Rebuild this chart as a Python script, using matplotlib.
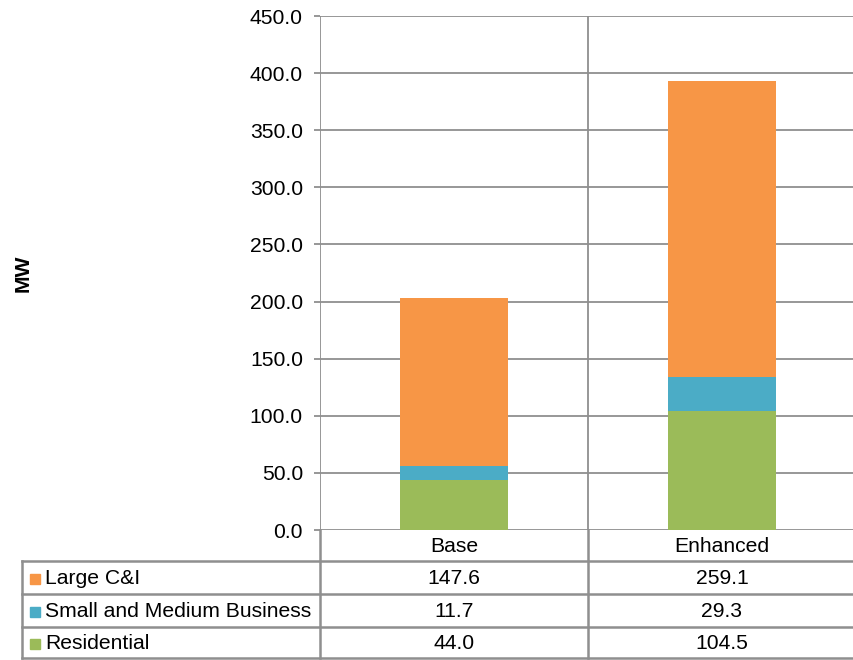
import numpy as np
import matplotlib.pyplot as plt

categories = ['Base', 'Enhanced']
series_names = ['Large C&I', 'Small and Medium Business', 'Residential']
residential = [44.0, 104.5]
small_medium = [11.7, 29.3]
large_ci = [147.6, 259.1]
colors = {'Large C&I': '#F79646',
          'Small and Medium Business': '#4BACC6',
          'Residential': '#9BBB59'}
y_ticks = np.arange(0, 451, 50)

plt.rcParams['font.family'] = ['Liberation Sans', 'DejaVu Sans']
W, H = 854, 660
fig = plt.figure(figsize=(W / 100, H / 100), dpi=100)

grid_c = '#8f8f8f'
fs = 15.2

# plot area in pixel coords
px_left, px_right, px_top, px_bottom = 320, 856, 16, 530
ax = fig.add_axes([px_left / W, 1 - px_bottom / H,
                   (px_right - px_left) / W, (px_bottom - px_top) / H])

x = np.arange(len(categories))
values = {'Residential': residential,
          'Small and Medium Business': small_medium,
          'Large C&I': large_ci}
bottom = np.zeros(len(categories))
for name in ['Residential', 'Small and Medium Business', 'Large C&I']:
    ax.bar(x, values[name], width=0.4, bottom=bottom, color=colors[name],
           zorder=3)
    bottom += np.array(values[name])

ax.set_xlim(-0.5, len(categories) - 0.5)
ax.set_ylim(0, 450)
ax.set_yticks(y_ticks)
ax.set_yticklabels([f'{t:.1f}' for t in y_ticks], fontsize=fs)
ax.yaxis.grid(True, color=grid_c, lw=1.3, zorder=0)
for xv in np.arange(-0.5, len(categories), 1.0):
    ax.axvline(xv, color=grid_c, lw=1.3, zorder=1)
ax.set_xticks([])
for s in ax.spines.values():
    s.set_visible(False)
ax.tick_params(axis='y', length=4.3, width=1.3, color=grid_c, pad=8)
ax.set_ylabel('MW', fontsize=fs, fontweight='bold', labelpad=0)
ax.yaxis.set_label_coords(-287 / (px_right - px_left), 0.5)

# data table underneath, drawn in pixel coordinates
tx = fig.add_axes([0, 0, 1, 1], facecolor='none')
tx.set_xlim(0, W)
tx.set_ylim(H, 0)
tx.axis('off')

col_w = (px_right - px_left) / len(categories)
col_edges = [px_left + i * col_w for i in range(len(categories) + 1)]
header_bottom = 561
row_edges = [561, 594, 627, 658]
table_left = 22

# header row: only the column separators
for xe in col_edges:
    tx.plot([xe, xe], [px_bottom, row_edges[-1]], color=grid_c, lw=1.8)
for ye in row_edges:
    tx.plot([table_left, px_right], [ye, ye], color=grid_c, lw=1.8)
tx.plot([table_left, table_left], [row_edges[0], row_edges[-1]],
        color=grid_c, lw=1.8)

for i, cat in enumerate(categories):
    tx.text(col_edges[i] + col_w / 2, (px_bottom + header_bottom) / 2 + 1, cat,
            ha='center', va='center', fontsize=fs)

table_vals = {'Large C&I': large_ci,
              'Small and Medium Business': small_medium,
              'Residential': residential}
for r, name in enumerate(series_names):
    yc = (row_edges[r] + row_edges[r + 1]) / 2 + 1
    tx.add_patch(plt.Rectangle((30, yc - 5), 10, 10, color=colors[name]))
    tx.text(45, yc, name, ha='left', va='center', fontsize=fs)
    for i in range(len(categories)):
        tx.text(col_edges[i] + col_w / 2, yc, f'{table_vals[name][i]:.1f}',
                ha='center', va='center', fontsize=fs)

fig.savefig('out.png', dpi=100)
